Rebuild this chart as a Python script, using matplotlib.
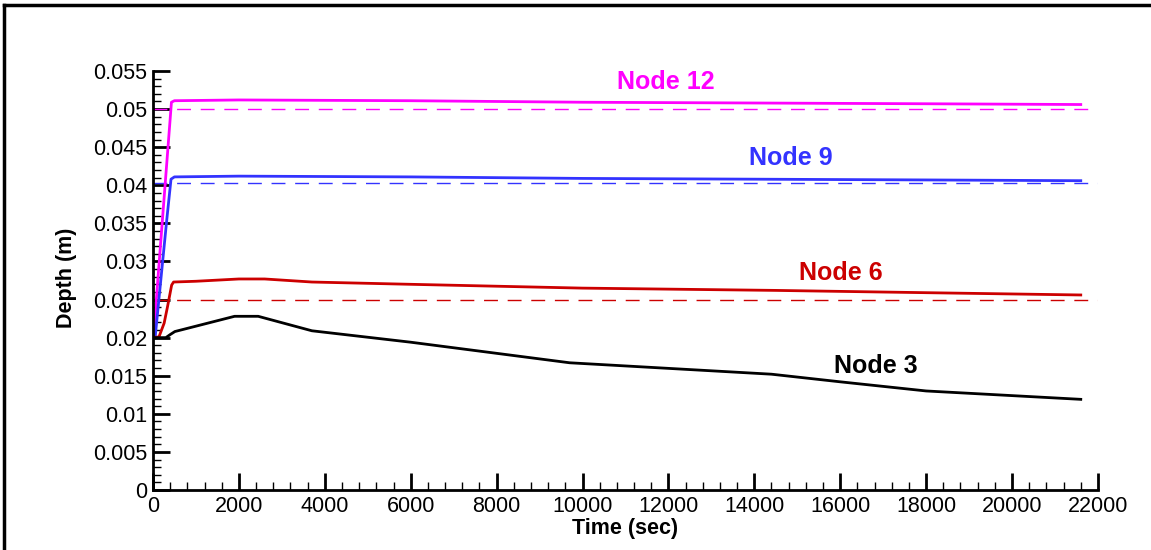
import matplotlib.pyplot as plt
from matplotlib.lines import Line2D
from matplotlib.ticker import MultipleLocator
import numpy as np

plt.rcParams['font.family'] = ['Liberation Sans', 'DejaVu Sans']

# computed depths at the nodes (time in sec, depth in m)
t12 = [0, 10, 430, 500, 2000, 6000, 10000, 14000, 18000, 21600]
d12 = [0.0200, 0.0200, 0.0509, 0.0511, 0.0512, 0.0511, 0.0509, 0.0508, 0.0507, 0.0506]

t9 = [0, 50, 320, 420, 500, 2000, 6000, 10000, 14000, 18000, 21600]
d9 = [0.0200, 0.0200, 0.0354, 0.0408, 0.0411, 0.0412, 0.0411, 0.0409, 0.0408, 0.0407, 0.0406]

t6 = [0, 140, 260, 340, 435, 480, 1000, 2000, 2600, 3700, 6000, 10000, 14500, 18000, 21600]
d6 = [0.0200, 0.0201, 0.0219, 0.0241, 0.0269, 0.0273, 0.0274, 0.0277, 0.0277, 0.0273,
      0.0270, 0.0265, 0.0262, 0.0259, 0.0256]

t3 = [0, 300, 400, 510, 1900, 2450, 3700, 6000, 9700, 14400, 16000, 18000, 21600]
d3 = [0.0200, 0.0200, 0.0204, 0.0208, 0.0228, 0.0228, 0.0209, 0.0194, 0.0167, 0.0152,
      0.0142, 0.0130, 0.0119]

# steady-state reference depths
ref12 = 0.0500
ref9 = 0.0403
ref6 = 0.0250
ref12_end = 21800
ref_end = 22000

magenta = '#ff00ff'
blue = '#3333ff'
red = '#cc0000'

fig = plt.figure(figsize=(11.51, 5.5), dpi=100)
ax = fig.add_axes([0.1329, 0.1091, 0.8210, 0.7618])

ax.plot([0, ref12_end], [ref12, ref12], color=magenta, lw=1.0, dashes=(10, 7))
ax.plot([0, ref_end], [ref9, ref9], color=blue, lw=1.0, dashes=(10, 7))
ax.plot([0, ref_end], [ref6, ref6], color=red, lw=1.0, dashes=(10, 7))

ax.plot(t12, d12, color=magenta, lw=2)
ax.plot(t9, d9, color=blue, lw=2)
ax.plot(t6, d6, color=red, lw=2)
ax.plot(t3, d3, color='black', lw=2)

lab = dict(fontsize=18, fontweight='bold', ha='center', va='center')
ax.text(11944, 0.05356, 'Node 12', color=magenta, **lab)
ax.text(14855, 0.04358, 'Node 9', color=blue, **lab)
ax.text(16019, 0.02849, 'Node 6', color=red, **lab)
ax.text(16834, 0.01628, 'Node 3', color='black', **lab)

ax.set_xlim(0, 22000)
ax.set_ylim(0, 0.055)
ax.xaxis.set_major_locator(MultipleLocator(2000))
ax.xaxis.set_minor_locator(MultipleLocator(400))
ax.yaxis.set_minor_locator(MultipleLocator(0.001))
ax.set_xticklabels([f'{v:g}' for v in ax.get_xticks()])
ax.set_yticks(np.arange(0, 0.0551, 0.005))
ax.set_yticklabels(['0'] + [f'{v:g}' for v in np.arange(0.005, 0.0551, 0.005).round(3)])

ax.tick_params(which='major', direction='in', length=12, width=2, labelsize=15.5, pad=4)
ax.tick_params(which='minor', direction='in', length=6, width=1)
for s in ['top', 'right']:
    ax.spines[s].set_visible(False)
for s in ['left', 'bottom']:
    ax.spines[s].set_linewidth(2)

ax.set_xlabel('Time (sec)', fontsize=15.5, fontweight='bold', va='center')
ax.set_ylabel('Depth (m)', fontsize=15.5, fontweight='bold', va='center')
ax.xaxis.set_label_coords(0.4995, -0.093)
ax.yaxis.set_label_coords(-0.091, 0.506)

# frame along top and left edges of the figure
fig.add_artist(Line2D([4 / 1151, 1], [1 - 5 / 550, 1 - 5 / 550], color='black', lw=2.5))
fig.add_artist(Line2D([4 / 1151, 4 / 1151], [0, 1 - 5 / 550], color='black', lw=2.5))

fig.savefig('out.png', dpi=100)
